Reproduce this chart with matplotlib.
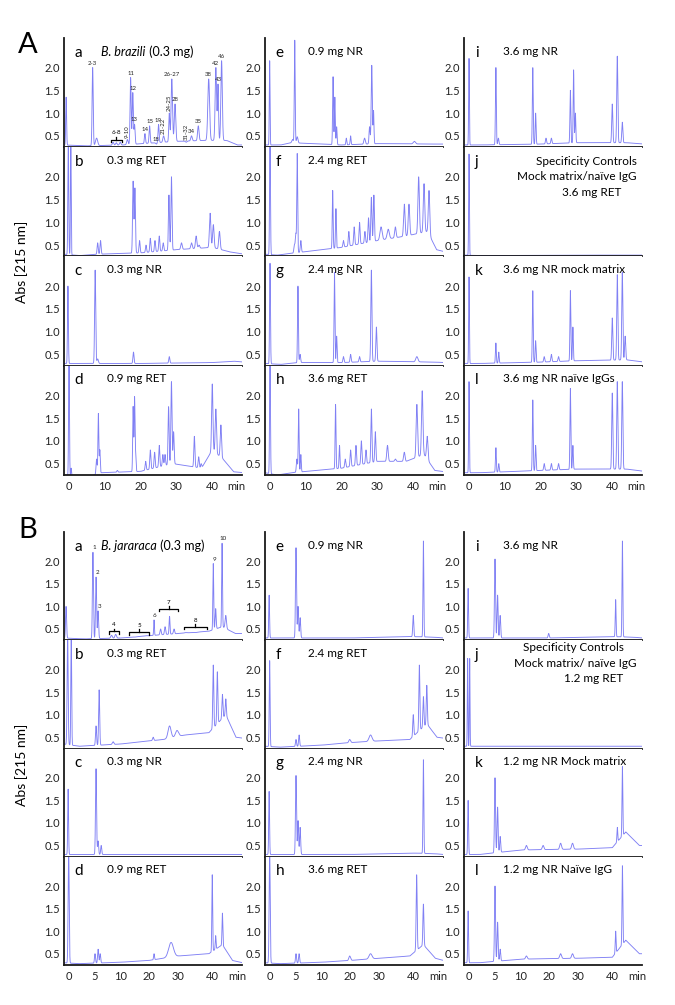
import numpy as np
import matplotlib
matplotlib.use("Agg")
import matplotlib.pyplot as plt
from matplotlib.scale import FuncScale

plt.rcParams['font.family'] = ['Lato', 'DejaVu Sans']

W, H = 675, 1005
LINE = '#8080f4'

# ---------------- data: peaks (time [min], apex Abs, width) and baselines ----------------
# Section A : B. brazili
A_a_peaks = [(-0.8, 1.35, 0.12), (6.6, 2.0, 0.15), (7.7, 0.45, 0.3), (12.3, 0.36, 0.2), (13.2, 0.35, 0.2),
             (14.3, 0.36, 0.2), (16.3, 0.42, 0.2), (17.2, 1.78, 0.15), (17.8, 1.45, 0.15), (18.3, 0.75, 0.15),
             (21.2, 0.55, 0.15), (22.5, 0.72, 0.15), (24.4, 0.32, 0.2), (25.0, 0.75, 0.15), (26.4, 0.5, 0.2),
             (28.0, 1.0, 0.15), (28.7, 1.75, 0.2), (29.6, 1.2, 0.2), (32.7, 0.36, 0.2), (34.2, 0.5, 0.2),
             (36.1, 0.72, 0.2), (39.0, 1.75, 0.25), (41.0, 2.0, 0.2), (41.6, 1.62, 0.15), (42.6, 2.15, 0.2)]
A_a_base = [(-1.5, 0.3), (5, 0.28), (15, 0.3), (30, 0.38), (38, 0.4), (44, 0.4), (47, 0.3), (49, 0.3)]

A_b_peaks = [(-0.2, 2.8, 0.12), (0.5, 2.8, 0.1), (8.0, 0.55, 0.15), (8.8, 0.6, 0.15), (17.9, 1.9, 0.15),
             (18.4, 1.75, 0.15), (19.7, 0.6, 0.15), (21.5, 0.5, 0.15), (22.7, 0.65, 0.15), (24.0, 0.6, 0.15),
             (25.2, 0.7, 0.15), (26.3, 0.55, 0.15), (27.9, 1.6, 0.15), (28.6, 2.0, 0.15), (31.4, 0.55, 0.2),
             (34.2, 0.55, 0.2), (35.5, 0.7, 0.2), (36.3, 0.5, 0.2), (39.4, 1.2, 0.2), (40.3, 0.95, 0.2),
             (42.0, 0.8, 0.2)]
A_b_base = [(-1.5, 0.3), (3, 0.27), (8, 0.3), (20, 0.33), (30, 0.4), (40, 0.45), (45, 0.35), (49, 0.3)]

A_c_peaks = [(-0.3, 2.0, 0.12), (7.3, 2.35, 0.15), (8.0, 0.4, 0.2), (18.0, 0.55, 0.15), (28.0, 0.45, 0.15)]
A_c_base = [(-1.5, 0.3), (3, 0.3), (20, 0.3), (40, 0.32), (46, 0.35), (49, 0.33)]

A_d_peaks = [(0.0, 2.8, 0.12), (0.6, 0.4, 0.1), (7.7, 0.6, 0.15), (8.2, 1.6, 0.12), (8.6, 0.8, 0.12),
             (13.5, 0.35, 0.15), (17.9, 1.75, 0.12), (18.3, 1.95, 0.12), (18.6, 0.7, 0.12), (21.4, 0.55, 0.15),
             (22.7, 0.8, 0.15), (23.9, 0.75, 0.15), (25.2, 0.9, 0.15), (26.2, 0.7, 0.15), (26.8, 0.7, 0.15),
             (27.8, 1.75, 0.15), (28.6, 2.3, 0.15), (29.2, 1.2, 0.15), (35.0, 1.1, 0.15), (36.2, 0.65, 0.15),
             (36.9, 0.5, 0.15), (40.0, 2.25, 0.18), (41.0, 1.7, 0.18), (42.4, 1.35, 0.18)]
A_d_base = [(-1.5, 0.25), (1, 0.2), (6, 0.22), (9, 0.3), (20, 0.33), (29, 0.5), (33, 0.45), (37, 0.4),
            (40, 0.8), (43, 0.6), (46, 0.32), (49, 0.3)]

A_e_peaks = [(-0.1, 2.15, 0.1), (6.9, 2.6, 0.12), (6.3, 0.42, 0.2), (7.6, 0.48, 0.2), (17.6, 1.8, 0.12),
             (18.1, 1.35, 0.12), (18.6, 0.7, 0.12), (21.3, 0.45, 0.12), (22.5, 0.5, 0.12), (26.4, 0.45, 0.2),
             (27.8, 0.7, 0.15), (28.4, 2.05, 0.15), (28.9, 1.05, 0.12), (40.3, 0.38, 0.3)]
A_e_base = [(-1.5, 0.3), (3, 0.3), (6, 0.35), (20, 0.3), (30, 0.33), (46, 0.32), (49, 0.32)]

A_f_peaks = [(0.0, 2.8, 0.12), (6.8, 0.5, 0.15), (7.2, 0.75, 0.15), (7.6, 2.5, 0.12), (8.6, 0.6, 0.15),
             (17.5, 1.7, 0.12), (18.4, 1.3, 0.12), (20.5, 0.6, 0.15), (22.0, 0.8, 0.15), (23.5, 0.9, 0.15),
             (25.0, 1.0, 0.15), (26.5, 0.8, 0.15), (27.5, 1.1, 0.15), (28.3, 1.55, 0.15), (29.0, 1.6, 0.15),
             (31.0, 0.9, 0.3), (33.0, 0.85, 0.3), (35.0, 0.9, 0.2), (37.5, 1.4, 0.2), (38.8, 1.4, 0.2),
             (41.5, 2.0, 0.2), (43.0, 1.85, 0.2), (44.4, 1.7, 0.2)]
A_f_base = [(-1.5, 0.3), (2, 0.28), (6, 0.32), (20, 0.45), (30, 0.6), (38, 0.7), (44, 0.8), (46.5, 0.4), (49, 0.35)]

A_g_peaks = [(0.0, 2.5, 0.12), (7.8, 2.0, 0.12), (8.4, 0.5, 0.15), (18.0, 2.3, 0.12), (18.6, 0.9, 0.12),
             (20.5, 0.45, 0.15), (22.5, 0.5, 0.15), (25.0, 0.45, 0.15), (28.3, 2.35, 0.15), (29.7, 1.1, 0.15),
             (41.0, 0.45, 0.3)]
A_g_base = [(-1.5, 0.3), (3, 0.28), (8, 0.32), (20, 0.32), (30, 0.35), (46, 0.33), (49, 0.32)]

A_h_peaks = [(0.0, 2.8, 0.12), (7.5, 0.6, 0.15), (8.0, 1.7, 0.12), (8.6, 0.7, 0.12), (18.3, 1.8, 0.12),
             (19.4, 0.9, 0.12), (21.0, 0.6, 0.15), (22.5, 0.8, 0.15), (24.0, 0.9, 0.15), (25.5, 1.0, 0.15),
             (26.8, 0.8, 0.15), (28.3, 1.7, 0.15), (29.4, 1.2, 0.15), (32.8, 0.9, 0.2), (35.0, 0.6, 0.2),
             (37.5, 0.75, 0.2), (41.0, 1.8, 0.2), (42.5, 2.1, 0.2), (43.9, 1.1, 0.2)]
A_h_base = [(-1.5, 0.3), (2, 0.25), (6, 0.3), (20, 0.4), (30, 0.55), (38, 0.55), (43, 0.7), (46, 0.35), (49, 0.32)]

A_i_peaks = [(0.0, 2.2, 0.1), (7.5, 2.0, 0.12), (8.2, 0.45, 0.15), (17.8, 2.0, 0.12), (18.6, 1.0, 0.12),
             (21.5, 0.45, 0.15), (23.0, 0.45, 0.15), (28.3, 1.5, 0.12), (29.2, 1.95, 0.12), (29.7, 1.0, 0.12),
             (40.0, 1.2, 0.15), (41.4, 2.25, 0.15), (42.8, 0.8, 0.15)]
A_i_base = [(-1.5, 0.3), (3, 0.3), (20, 0.32), (30, 0.35), (44, 0.35), (49, 0.32)]

A_j_peaks = [(0.0, 2.5, 0.1)]
A_j_base = [(-1.5, 0.28), (3, 0.27), (30, 0.28), (49, 0.28)]

A_k_peaks = [(0.0, 2.2, 0.1), (7.5, 0.75, 0.12), (8.3, 0.55, 0.12), (17.8, 1.9, 0.12), (18.6, 0.8, 0.12),
             (21.0, 0.45, 0.15), (23.0, 0.5, 0.15), (25.0, 0.45, 0.15), (28.3, 1.9, 0.12), (29.0, 1.1, 0.12),
             (40.0, 1.3, 0.15), (41.4, 2.25, 0.15), (42.8, 2.3, 0.15), (43.6, 0.9, 0.15)]
A_k_base = [(-1.5, 0.3), (3, 0.3), (20, 0.33), (30, 0.36), (44, 0.38), (49, 0.33)]

A_l_peaks = [(0.0, 2.3, 0.1), (7.5, 0.85, 0.12), (8.3, 0.5, 0.12), (17.8, 1.9, 0.12), (18.6, 0.9, 0.12),
             (21.0, 0.5, 0.15), (23.0, 0.5, 0.15), (25.0, 0.5, 0.15), (28.3, 2.15, 0.12), (29.0, 0.9, 0.12),
             (40.0, 2.05, 0.15), (41.4, 2.3, 0.15), (42.8, 2.3, 0.15)]
A_l_base = [(-1.5, 0.3), (3, 0.3), (20, 0.35), (30, 0.38), (44, 0.38), (49, 0.33)]

# Section B : B. jararaca
B_a_peaks = [(-0.6, 1.0, 0.1), (4.6, 2.2, 0.1), (5.2, 1.65, 0.1), (5.6, 0.9, 0.1), (8.2, 0.36, 0.15),
             (9.0, 0.38, 0.15), (15.0, 0.32, 0.3), (19.0, 0.35, 0.3), (21.8, 0.7, 0.12), (24.0, 0.5, 0.2),
             (25.5, 0.55, 0.2), (27.0, 0.78, 0.15), (28.5, 0.5, 0.2), (32.0, 0.42, 0.3), (35.0, 0.42, 0.3),
             (40.3, 1.95, 0.12), (41.0, 0.95, 0.15), (42.9, 2.4, 0.12), (44.0, 0.8, 0.2)]
B_a_base = [(-1.2, 0.3), (3, 0.28), (10, 0.3), (20, 0.35), (30, 0.4), (39, 0.45), (43, 0.55), (46.8, 0.4), (49, 0.4)]

B_b_peaks = [(-0.3, 2.8, 0.1), (0.4, 2.8, 0.08), (5.2, 0.75, 0.1), (5.8, 1.55, 0.1), (8.5, 0.4, 0.15),
             (21.5, 0.5, 0.2), (27.0, 0.75, 0.5), (29.5, 0.65, 0.5), (40.3, 2.1, 0.15), (41.5, 1.95, 0.15),
             (43.0, 1.45, 0.15), (44.0, 1.35, 0.15)]
B_b_base = [(-1.2, 0.35), (2, 0.3), (10, 0.35), (25, 0.45), (32, 0.55), (39, 0.6), (44, 1.0), (47, 0.5), (49, 0.48)]

B_c_peaks = [(-0.2, 1.75, 0.08), (5.2, 2.2, 0.1), (5.6, 0.6, 0.1), (6.2, 0.5, 0.1)]
B_c_base = [(-1.2, 0.3), (2, 0.3), (20, 0.3), (49, 0.3)]

B_d_peaks = [(-0.1, 2.8, 0.1), (5.0, 0.5, 0.1), (5.6, 0.6, 0.1), (6.0, 0.5, 0.1), (21.8, 0.5, 0.15),
             (27.5, 0.75, 0.8), (40.0, 2.25, 0.12), (41.0, 0.9, 0.12), (43.0, 1.4, 0.12)]
B_d_base = [(-1.2, 0.3), (2, 0.28), (20, 0.35), (30, 0.45), (39, 0.5), (43, 0.7), (46, 0.35), (49, 0.3)]

B_e_peaks = [(-0.2, 1.25, 0.08), (5.0, 2.3, 0.1), (5.4, 1.0, 0.1), (5.8, 0.75, 0.1), (40.0, 0.8, 0.15),
             (43.0, 2.45, 0.12)]
B_e_base = [(-1.2, 0.3), (2, 0.3), (20, 0.3), (40, 0.33), (46, 0.32), (49, 0.3)]

B_f_peaks = [(-0.1, 2.2, 0.08), (5.0, 0.45, 0.1), (5.6, 0.55, 0.1), (20.0, 0.45, 0.3), (27.0, 0.55, 0.5),
             (40.0, 1.0, 0.15), (41.8, 2.1, 0.15), (43.0, 1.4, 0.15), (44.0, 1.65, 0.15)]
B_f_base = [(-1.2, 0.3), (2, 0.28), (20, 0.38), (30, 0.42), (39, 0.45), (44, 0.8), (47, 0.5), (49, 0.48)]

B_g_peaks = [(-0.2, 1.7, 0.08), (5.0, 2.05, 0.1), (5.4, 1.05, 0.1), (5.8, 0.9, 0.1), (43.0, 2.4, 0.12)]
B_g_base = [(-1.2, 0.3), (2, 0.3), (20, 0.3), (40, 0.33), (46, 0.32), (49, 0.3)]

B_h_peaks = [(-0.1, 2.8, 0.1), (5.0, 0.5, 0.1), (5.6, 0.5, 0.1), (20.0, 0.45, 0.3), (27.0, 0.5, 0.5),
             (41.0, 2.25, 0.15), (43.0, 1.6, 0.15)]
B_h_base = [(-1.2, 0.3), (2, 0.28), (20, 0.35), (30, 0.4), (39, 0.45), (43, 0.7), (46.5, 0.4), (49, 0.35)]

B_i_peaks = [(-0.2, 1.4, 0.08), (5.0, 2.05, 0.1), (5.5, 1.25, 0.1), (6.0, 0.8, 0.1), (20.0, 0.4, 0.2),
             (41.0, 1.15, 0.12), (43.0, 2.45, 0.12)]
B_i_base = [(-1.2, 0.3), (2, 0.3), (20, 0.3), (40, 0.33), (46, 0.32), (49, 0.3)]

B_j_peaks = [(-0.3, 2.25, 0.06), (0.1, 2.25, 0.06)]
B_j_base = [(-1.2, 0.3), (2, 0.3), (30, 0.3), (49, 0.3)]

B_k_peaks = [(-0.2, 1.5, 0.08), (5.0, 2.0, 0.1), (5.5, 1.35, 0.1), (6.0, 0.7, 0.1), (12.0, 0.5, 0.3),
             (18.0, 0.5, 0.3), (24.0, 0.55, 0.3), (28.0, 0.55, 0.3), (41.5, 0.9, 0.12), (43.0, 2.25, 0.12)]
B_k_base = [(-1.2, 0.3), (2, 0.3), (10, 0.4), (30, 0.42), (40, 0.45), (44, 0.8), (48, 0.5), (49, 0.5)]

B_l_peaks = [(-0.2, 1.45, 0.08), (5.0, 2.0, 0.1), (5.5, 1.2, 0.1), (6.0, 0.6, 0.1), (12.0, 0.45, 0.3),
             (24.0, 0.5, 0.3), (28.0, 0.5, 0.3), (41.0, 1.0, 0.12), (43.0, 2.45, 0.12)]
B_l_base = [(-1.2, 0.3), (2, 0.3), (10, 0.38), (30, 0.4), (40, 0.42), (44, 0.8), (48, 0.5), (49, 0.5)]

# panel labels
A_titles = {'a': None, 'b': '0.3 mg RET', 'c': '0.3 mg NR', 'd': '0.9 mg RET',
            'e': '0.9 mg NR', 'f': '2.4 mg RET', 'g': '2.4 mg NR', 'h': '3.6 mg RET',
            'i': '3.6 mg NR', 'j': None, 'k': '3.6 mg NR mock matrix', 'l': '3.6 mg NR naïve IgGs'}
B_titles = {'a': None, 'b': '0.3 mg RET', 'c': '0.3 mg NR', 'd': '0.9 mg RET',
            'e': '0.9 mg NR', 'f': '2.4 mg RET', 'g': '2.4 mg NR', 'h': '3.6 mg RET',
            'i': '3.6 mg NR', 'j': None, 'k': '1.2 mg NR Mock matrix', 'l': '1.2 mg NR Naïve IgG'}

A_peak_labels = [('2-3', 6.6), ('11', 17.2), ('12', 17.8), ('13', 18.3), ('14', 21.2), ('15', 22.5),
                 ('18', 24.4), ('19', 25.0), ('26-27', 28.7), ('28', 29.6), ('34', 34.2), ('35', 36.1),
                 ('38', 39.0), ('42', 41.0), ('43', 41.6), ('46', 42.6)]
A_peak_labels_rot = [('9-10', 16.3), ('21-22', 26.4), ('24-25', 28.0), ('31-32', 32.7)]
B_peak_labels = [('1', 4.6), ('2', 5.2), ('3', 5.6), ('6', 21.8), ('9', 40.3), ('10', 42.9)]
B_brackets = [('4', 7.7, 9.6, 0.45), ('5', 13.0, 20.0, 0.43), ('7', 23.5, 30.0, 0.95), ('8', 31.5, 38.5, 0.55)]
A_brackets = [('6-8', 11.8, 14.7, 0.42)]

TICK_Y = [0.5, 1.0, 1.5, 2.0]
A_xticks = [0, 10, 20, 30, 40]
B_xticks = [0, 5, 10, 20, 30, 40]
B_knots_min = [-10, 0, 10, 20, 30, 40, 60]
B_knots_px = [-52, 0, 52, 80, 110, 144, 212]

# ---------------- drawing ----------------
fig = plt.figure(figsize=(W / 100, H / 100), dpi=100)

def fx(px):
    return px / W

def fy(py):
    return 1 - py / H

def trace(t, peaks, base):
    bt = [b[0] for b in base]
    bv = [b[1] for b in base]
    y = np.interp(t, bt, bv)
    for c, h, w in peaks:
        y = y + (h - np.interp(c, bt, bv)) * np.exp(-0.5 * ((t - c) / w) ** 2)
    return y

def b_fwd(x):
    return np.interp(x, B_knots_min, B_knots_px)

def b_inv(x):
    return np.interp(x, B_knots_px, B_knots_min)

col_left = [64, 265, 464]
col_w = 178
letters = ['a', 'b', 'c', 'd', 'e', 'f', 'g', 'h', 'i', 'j', 'k', 'l']

def make_section(sec, top, row_h, xlim, ticks, scale_B, titles):
    axes = {}
    t = np.linspace(xlim[0], xlim[1], 6000)
    for ci in range(3):
        for ri in range(4):
            L = letters[ci * 4 + ri]
            ax = fig.add_axes([fx(col_left[ci]), fy(top + (ri + 1) * row_h), col_w / W, row_h / H])
            if scale_B:
                ax.set_xscale(FuncScale(ax.xaxis, (b_fwd, b_inv)))
            peaks = globals()[f'{sec}_{L}_peaks']
            base = globals()[f'{sec}_{L}_base']
            ax.plot(t, trace(t, peaks, base), color=LINE, lw=0.65)
            ax.set_xlim(*xlim)
            ax.set_ylim(0.25, 2.65)
            for s in ['top', 'right']:
                ax.spines[s].set_visible(False)
            for s in ['left', 'bottom']:
                ax.spines[s].set_linewidth(1.3)
                ax.spines[s].set_color('#1a1a1a')
            ax.set_yticks(TICK_Y, [f'{v:.1f}' for v in TICK_Y])
            ax.tick_params(axis='both', length=0, labelsize=8, colors='#222222', pad=3)
            if ri == 3:
                mpos = 46.7 if not scale_B else 47.3
                ax.set_xticks(ticks + [mpos], [str(v) for v in ticks] + ['min'])
                ax.tick_params(axis='x', pad=4)
            else:
                ax.set_xticks([])
            ax.text(0.06, 0.93, L, transform=ax.transAxes, fontsize=11, va='top', ha='left')
            if titles[L]:
                ax.text(0.24 if ci < 2 else 0.22, 0.93, titles[L], transform=ax.transAxes,
                        fontsize=8.5, va='top', ha='left')
            axes[L] = ax
    return axes

A_top, A_rh = 38, (475 - 38) / 4
B_top, B_rh = 532, (965 - 532) / 4
axA = make_section('A', A_top, A_rh, (-1.4, 48.3), A_xticks, False, A_titles)
axB = make_section('B', B_top, B_rh, (-1.0, 48.8), B_xticks, True, B_titles)

# section letters and y labels
fig.text(fx(28), fy(45), 'A', fontsize=21, ha='center', va='center')
fig.text(fx(28), fy(530), 'B', fontsize=21, ha='center', va='center')
fig.text(fx(22), fy(262), 'Abs [215 nm]', fontsize=10, rotation=90, ha='center', va='center')
fig.text(fx(22), fy(765), 'Abs [215 nm]', fontsize=10, rotation=90, ha='center', va='center')

# species titles (italic name + plain)
fig.canvas.draw()
r = fig.canvas.get_renderer()
for ax, name, rest in [(axA['a'], 'B. brazili', ' (0.3 mg)'), (axB['a'], 'B. jararaca', ' (0.3 mg)')]:
    t1 = ax.text(0.21, 0.93, name, transform=ax.transAxes, fontsize=9, style='italic', va='top', ha='left')
    bb = t1.get_window_extent(renderer=r)
    x1 = ax.transAxes.inverted().transform((bb.x1, bb.y0))[0]
    ax.text(x1, 0.93, rest, transform=ax.transAxes, fontsize=9, va='top', ha='left')

# specificity control text
ja = axA['j']
ja.text(0.97, 0.92, 'Specificity Controls', transform=ja.transAxes, fontsize=8.5, ha='right', va='top')
ja.text(0.97, 0.78, 'Mock matrix/naïve IgG', transform=ja.transAxes, fontsize=8.5, ha='right', va='top')
ja.text(0.72, 0.64, '3.6 mg RET', transform=ja.transAxes, fontsize=8.5, ha='center', va='top')
jb = axB['j']
jb.text(0.90, 0.98, 'Specificity Controls', transform=jb.transAxes, fontsize=8.5, ha='right', va='top')
jb.text(0.97, 0.84, 'Mock matrix/ naïve IgG', transform=jb.transAxes, fontsize=8.5, ha='right', va='top')
jb.text(0.73, 0.70, '1.2 mg RET', transform=jb.transAxes, fontsize=8.5, ha='center', va='top')

# peak annotations
def peak_y(peaks, base, c):
    return trace(np.array([c]), peaks, base)[0]

axa = axA['a']
for lab, c in A_peak_labels:
    axa.text(c, peak_y(A_a_peaks, A_a_base, c) + 0.04, lab, fontsize=4.3, ha='center', va='bottom', color='#222')
for lab, c in A_peak_labels_rot:
    axa.text(c, peak_y(A_a_peaks, A_a_base, c) + 0.04, lab, fontsize=4.3, ha='center', va='bottom',
             rotation=90, color='#222')

def bracket(ax, lab, x0, x1, y):
    h = 0.06
    ax.plot([x0, x0, x1, x1], [y - h, y, y, y - h], color='black', lw=0.9)
    xm = 0.5 * (x0 + x1)
    ax.plot([xm, xm], [y, y + h], color='black', lw=0.9)
    ax.text(xm, y + h + 0.03, lab, fontsize=4.5, ha='center', va='bottom')

for lab, x0, x1, y in A_brackets:
    bracket(axa, lab, x0, x1, y)

bxa = axB['a']
for lab, c in B_peak_labels:
    bxa.text(c + 0.3, peak_y(B_a_peaks, B_a_base, c) + 0.04, lab, fontsize=4.5, ha='center', va='bottom', color='#222')
for lab, x0, x1, y in B_brackets:
    bracket(bxa, lab, x0, x1, y)

fig.savefig('out.png', dpi=100)
